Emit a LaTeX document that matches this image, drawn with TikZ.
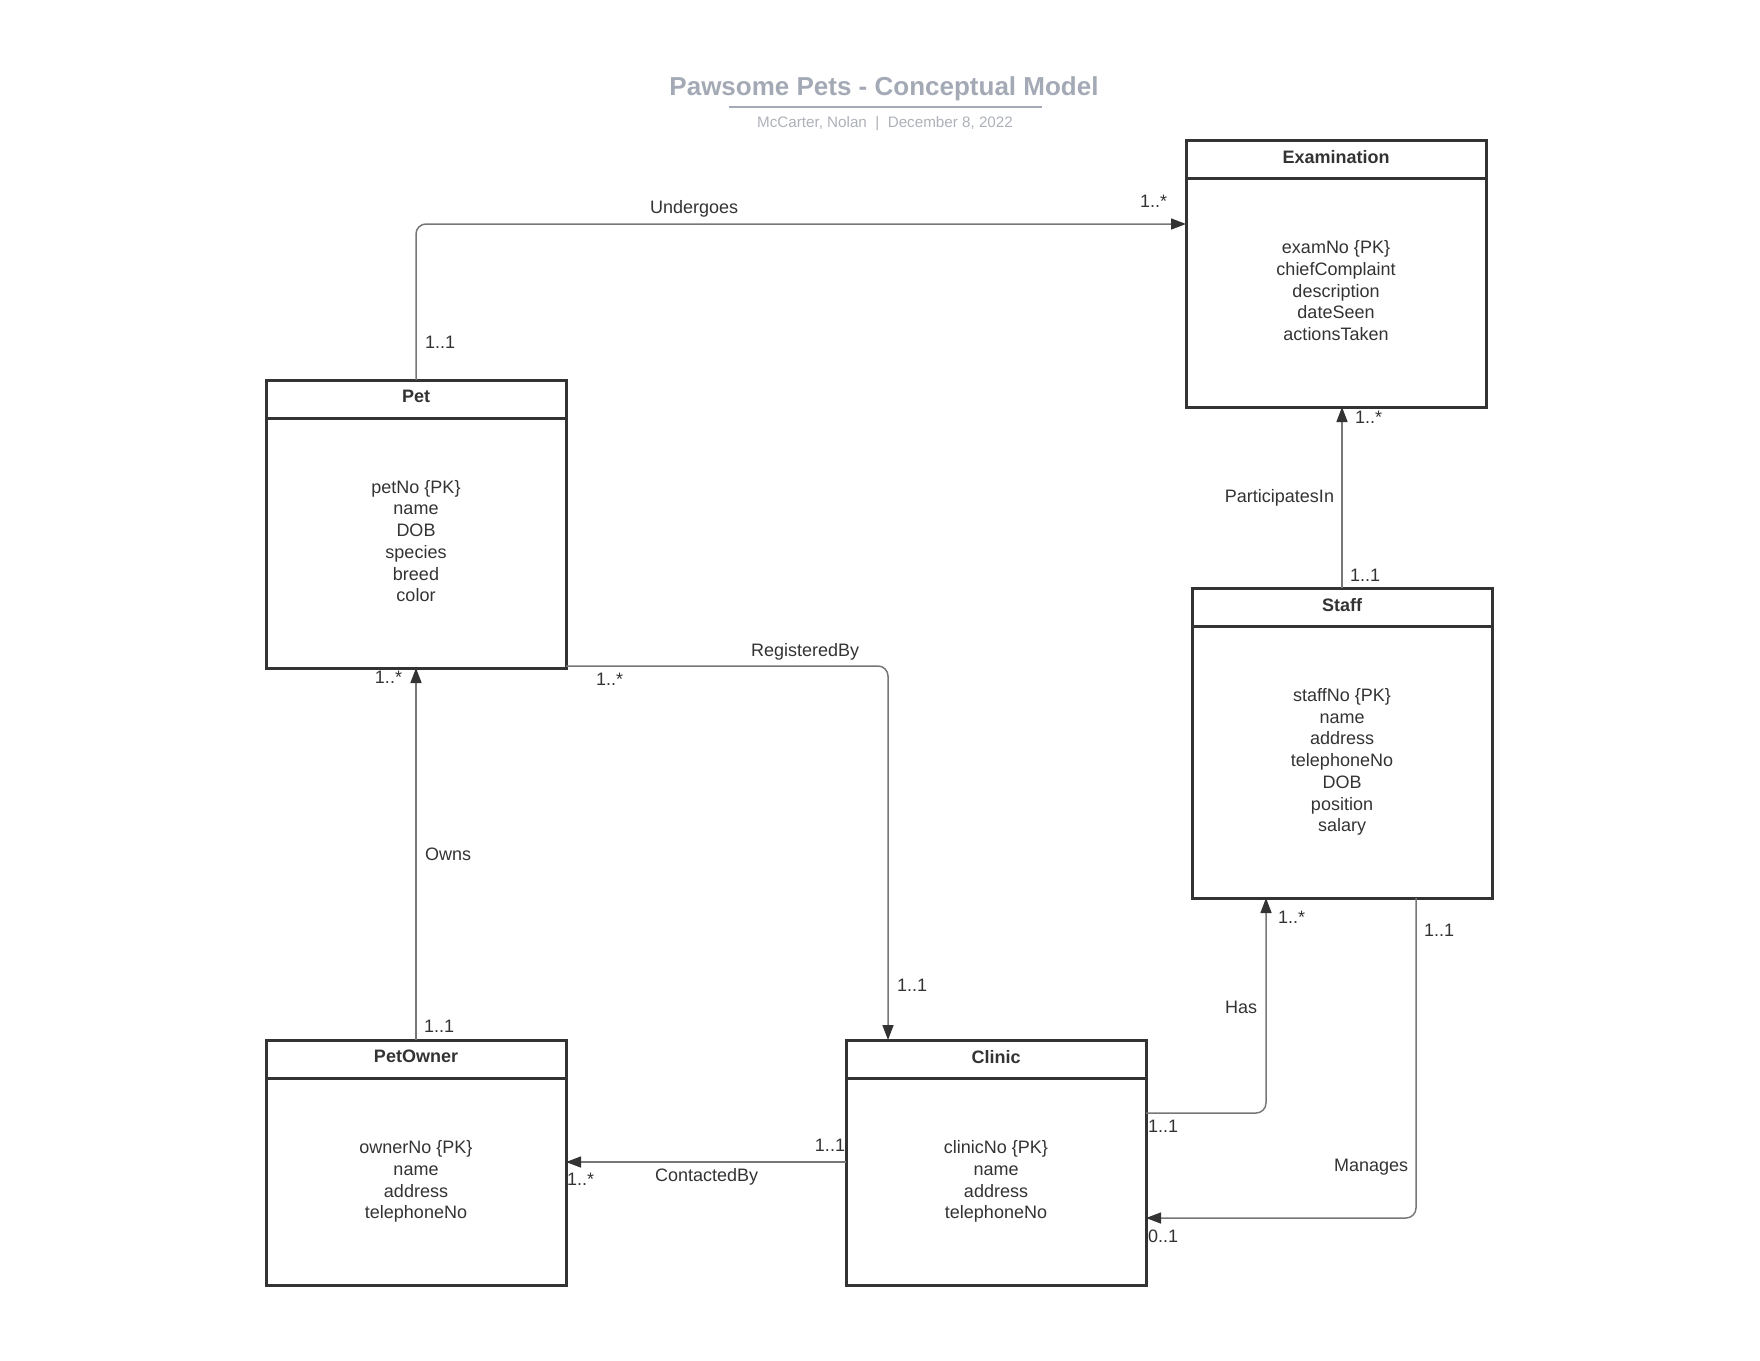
\documentclass[tikz,border=0pt]{standalone}
\usepackage{fontspec}
\setmainfont{Liberation Sans}
\usetikzlibrary{arrows.meta}
\usetikzlibrary{positioning}

\definecolor{boxgray}{HTML}{333333}
\definecolor{linkgray}{HTML}{777777}
\definecolor{titlegray}{HTML}{A4AAB5}
\definecolor{subgray}{HTML}{ADB1B8}

\begin{document}
\begin{tikzpicture}[x=0.5pt, y=-0.5pt,
  every node/.style={font=\fontsize{9}{10.85}\selectfont, text=boxgray, inner sep=0pt, outer sep=0pt},
  head/.style={draw=boxgray, line width=1.5pt, minimum width=150pt, minimum height=19pt, text depth=2.5pt,
    font=\fontsize{9}{10.85}\selectfont\bfseries, anchor=north west},
  attrs/.style={draw=boxgray, line width=1.5pt, minimum width=150pt, align=center, below=0pt of #1},
  link/.style={draw=linkgray, line width=0.75pt, rounded corners=5pt},
  tip/.style={-{Triangle[length=7.5pt, width=5.5pt, color=boxgray]}}]
\useasboundingbox (0,0) rectangle (1760,1360);

\node[anchor=base, font=\fontsize{13}{15}\selectfont\bfseries, text=titlegray] (title) at (884,95) {Pawsome Pets - Conceptual Model};
\draw[titlegray, line width=1pt] (729,107) -- (1042,107);
\node[anchor=base, font=\fontsize{7.6}{9}\selectfont, text=subgray] (subtitle) at (885,127) {McCarter, Nolan\ \ |\ \ December 8, 2022};

\node[head] (examh) at (1186,140) {Examination};
\node[attrs=examh, minimum height=114.5pt, text depth=2pt] (examb) {examNo \{PK\}\\chiefComplaint\\description\\dateSeen\\actionsTaken};

\node[head] (peth) at (266,380) {Pet};
\node[attrs=peth, minimum height=125pt, text depth=2pt] (petb) {petNo \{PK\}\\name\\DOB\\species\\breed\\color};

\node[head] (staffh) at (1192,588) {Staff};
\node[attrs=staffh, minimum height=136pt] (staffb) {staffNo \{PK\}\\name\\address\\telephoneNo\\DOB\\position\\salary};

\node[head] (ownerh) at (266,1040) {PetOwner};
\node[attrs=ownerh, minimum height=103.5pt] (ownerb) {ownerNo \{PK\}\\name\\address\\telephoneNo};

\node[head] (clinich) at (846,1040) {Clinic};
\node[attrs=clinich, minimum height=103.5pt] (clinicb) {clinicNo \{PK\}\\name\\address\\telephoneNo};

\draw[link, tip] (peth.north) |- (examb.west |- 0,224);
\draw[link, tip] (staffh.north) -- (staffh.north |- examb.south);
\draw[link, tip] (ownerh.north) -- (petb.south);
\draw[link, tip] (petb.east |- 0,666) -| (888,0 |- clinich.north);
\draw[link, tip] (clinicb.west |- 0,1162) -- (ownerb.east |- 0,1162);
\draw[link, tip] (clinicb.east |- 0,1113) -| (1266,0 |- staffb.south);
\draw[link, tip] (1416,0 |- staffb.south) |- (clinicb.east |- 0,1218);

\node[anchor=base west] (undergoes) at (650,213) {Undergoes};
\node[anchor=base east] (participates) at (1334,502) {ParticipatesIn};
\node[anchor=base west] (owns) at (425,860) {Owns};
\node[anchor=base west] (registered) at (751,656) {RegisteredBy};
\node[anchor=base west] (contacted) at (655,1181) {ContactedBy};
\node[anchor=base east] (has) at (1257,1013) {Has};
\node[anchor=base west] (manages) at (1334,1171) {Manages};

\foreach \n/\a/\p/\t in {ug1/west/{425,348}/1..1, ug2/east/{1167,207}/1..*,
    pi1/west/{1350,581}/1..1, pi2/west/{1355,423}/1..*,
    ow1/west/{424,1032}/1..1, ow2/east/{402,683}/1..*,
    rb1/west/{596,685}/1..*, rb2/west/{897,991}/1..1,
    cb1/east/{845,1151}/1..1, cb2/west/{567,1185}/1..*,
    has1/west/{1148,1132}/1..1, has2/west/{1278,923}/1..*,
    mg1/west/{1424,936}/1..1, mg2/west/{1148,1242}/0..1} {
 \node[anchor=base \a] (\n) at (\p) {\t};
}
\end{tikzpicture}
\end{document}
